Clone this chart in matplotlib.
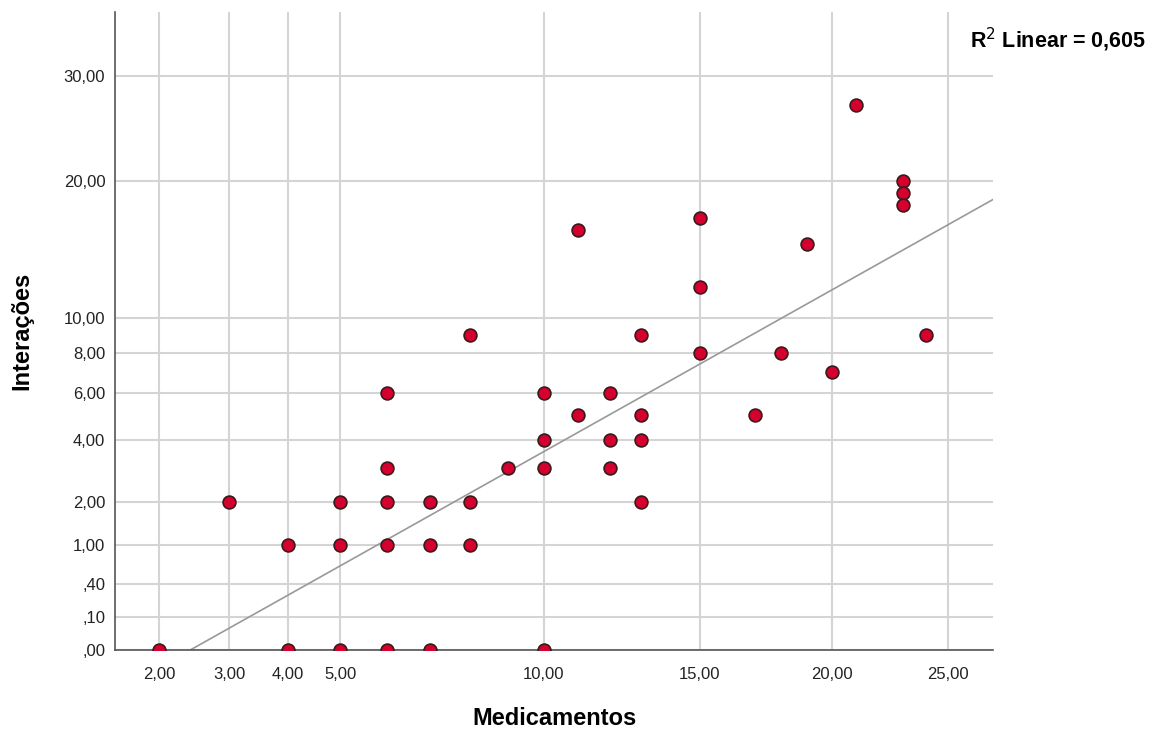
import numpy as np
import matplotlib
matplotlib.use("Agg")
import matplotlib.pyplot as plt

medicamentos = [2, 3, 4, 4, 5, 5, 5, 6, 6, 6, 6, 6, 7, 7, 7, 8, 8, 8, 9,
                10, 10, 10, 10, 11, 11, 12, 12, 12, 13, 13, 13, 13,
                15, 15, 15, 17, 18, 19, 20, 21, 23, 23, 23, 24]
interacoes = [0, 2, 1, 0, 2, 1, 0, 6, 3, 2, 1, 0, 2, 1, 0, 9, 2, 1, 3,
              6, 4, 3, 0, 16, 5, 6, 4, 3, 9, 5, 4, 2,
              17, 12, 8, 5, 8, 15, 7, 27, 20, 19, 18, 9]

x_ticks = [2, 3, 4, 5, 10, 15, 20, 25]
x_labels = ["2,00", "3,00", "4,00", "5,00", "10,00", "15,00", "20,00", "25,00"]
y_ticks = [0, 0.1, 0.4, 1, 2, 4, 6, 8, 10, 20, 30]
y_labels = [",00", ",10", ",40", "1,00", "2,00", "4,00", "6,00", "8,00", "10,00", "20,00", "30,00"]
r2_text = "R$^2$ Linear = 0,605"

# fit line (on the square-root scales)
fit_intercept = -1.829
fit_slope = 1.1764

plt.rcParams['font.family'] = ['Liberation Sans', 'DejaVu Sans']

fwd = lambda v: np.sqrt(np.clip(v, 0, None))
inv = lambda v: np.square(v)

fig = plt.figure(figsize=(11.55, 7.33), dpi=100)
ax = fig.add_axes([115/1155, 1 - 650/733, (993-115)/1155, (650-12)/733])
ax.set_xscale('function', functions=(fwd, inv))
ax.set_yscale('function', functions=(fwd, inv))
x_lo, x_hi = 1.47, 27.1
ax.set_xlim(x_lo, x_hi)
ax.set_ylim(0, 37.0)

ax.set_xticks(x_ticks)
ax.set_xticklabels(x_labels)
ax.set_yticks(y_ticks)
ax.set_yticklabels(y_labels)
ax.minorticks_off()
ax.grid(True, color='#d4d4d4', linewidth=1.5)
ax.set_axisbelow(True)
for s in ['top', 'right']:
    ax.spines[s].set_visible(False)
for s in ['left', 'bottom']:
    ax.spines[s].set_color('#555555')
    ax.spines[s].set_linewidth(1.2)
ax.tick_params(length=0, labelsize=12, colors='#222222')
ax.tick_params(axis='x', pad=12)
ax.tick_params(axis='y', pad=7)

sx_start = -fit_intercept / fit_slope
sx = np.linspace(sx_start, np.sqrt(x_hi), 200)
sy = fit_intercept + fit_slope * sx
ax.plot(sx**2, sy**2, color='#999999', linewidth=1.2, zorder=2)

ax.scatter(medicamentos, interacoes, s=85, facecolor='#d5002e', edgecolor='#3a1a1a',
           linewidth=1.2, zorder=3)

ax.set_xlabel("Medicamentos", fontsize=17, fontweight='bold', labelpad=18)
ax.set_ylabel("Interações", fontsize=17, fontweight='bold', labelpad=22)
fig.text(1146/1155, 1 - 40/733, r2_text, ha='right', va='center', fontsize=15.5,
         fontweight='bold')

fig.savefig("out.png", dpi=100)
